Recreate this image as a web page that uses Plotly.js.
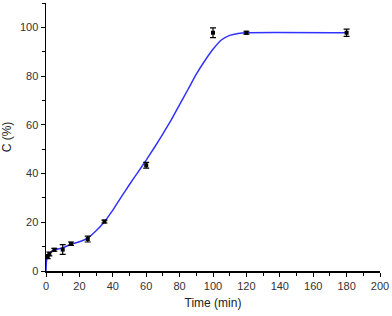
<!DOCTYPE html>
<html>
<head>
<meta charset="utf-8">
<script src="https://cdn.plot.ly/plotly-3.0.1.min.js"></script>
<style>html,body{margin:0;padding:0;background:#fff;}#chart{width:392px;height:316px;}</style>
</head>
<body>
<div id="chart"></div>
<script>
// Measured data (time in min, conversion C in %)
var timeMin = [1, 2, 5, 10, 15, 25, 35, 60, 100, 120, 180];
var convPct = [5.9, 7.0, 8.7, 8.8, 11.2, 13.1, 20.3, 43.4, 97.8, 97.8, 97.8];
var convErr = [0.8, 0.8, 0.6, 2.0, 0.7, 1.2, 0.6, 1.2, 2.0, 0.6, 1.5];

// Fitted curve
var fitTime = [0, 0.3, 1, 2, 5, 10, 15, 20, 25, 30, 35, 40, 45, 50, 55, 60, 65, 70, 75, 80, 85, 90, 95, 100, 105, 110, 115, 120, 180];
var fitConv = [0, 4, 6.2, 7.2, 8.6, 9.5, 11, 12, 13.5, 16.5, 20.2, 25, 30.3, 35.5, 40.5, 45.5, 50.8, 56.3, 62, 68.3, 74.5, 80.8, 86.2, 91, 94.8, 96.7, 97.5, 97.8, 97.8];

var xTicks = [0, 20, 40, 60, 80, 100, 120, 140, 160, 180, 200];
var yTicks = [0, 20, 40, 60, 80, 100];

var traces = [
  {
    x: fitTime, y: fitConv, type: 'scatter', mode: 'lines',
    line: {color: 'rgb(50,50,255)', width: 1.5, shape: 'spline', smoothing: 0.5},
    hoverinfo: 'skip', showlegend: false
  },
  {
    x: timeMin, y: convPct, type: 'scatter', mode: 'markers',
    marker: {symbol: 'square', color: '#000', size: 4},
    error_y: {type: 'data', array: convErr, visible: true, color: '#000', thickness: 1.2, width: 3},
    showlegend: false
  }
];

var axisFont = {family: 'Liberation Sans, Arial, sans-serif', size: 11, color: '#333'};
var layout = {
  width: 392, height: 316,
  margin: {l: 46, r: 12, t: 3, b: 45},
  paper_bgcolor: '#fff', plot_bgcolor: '#fff',
  xaxis: {
    range: [0, 200], tickvals: xTicks, ticktext: xTicks.map(String),
    ticks: 'outside', ticklen: 4, tickwidth: 1, tickcolor: '#000',
    minor: {dtick: 10, ticks: 'outside', ticklen: 3, tickcolor: '#000', tickwidth: 1},
    showline: true, linecolor: '#000', linewidth: 1.5, showgrid: false, zeroline: false,
    tickfont: axisFont,
    title: {text: 'Time (min)', font: {family: 'Liberation Sans, Arial, sans-serif', size: 12, color: '#222'}, standoff: 8}
  },
  yaxis: {
    range: [0, 110], tickvals: yTicks, ticktext: yTicks.map(String),
    ticks: 'outside', ticklen: 4, tickwidth: 1, tickcolor: '#000',
    minor: {dtick: 10, ticks: 'outside', ticklen: 3, tickcolor: '#000', tickwidth: 1},
    showline: true, linecolor: '#000', linewidth: 1.5, showgrid: false, zeroline: false,
    tickfont: axisFont,
    title: {text: 'C (%)', font: {family: 'Liberation Sans, Arial, sans-serif', size: 12, color: '#222'}, standoff: 6}
  }
};
Plotly.newPlot('chart', traces, layout, {displayModeBar: false, staticPlot: true});
</script>
</body>
</html>
